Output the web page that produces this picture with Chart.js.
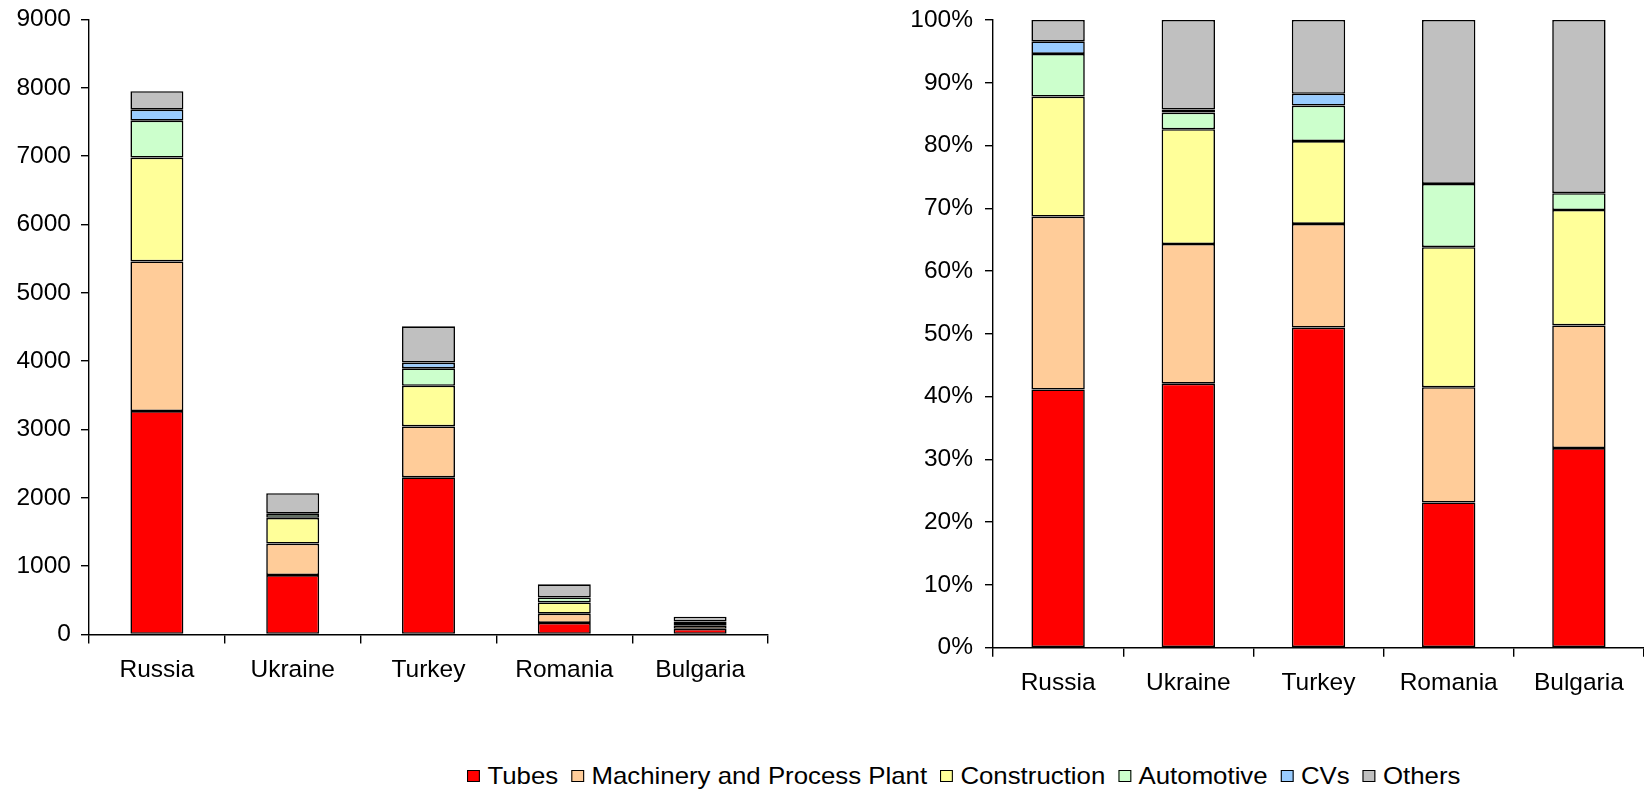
<!DOCTYPE html>
<html>
<head>
<meta charset="utf-8">
<script src="https://cdn.jsdelivr.net/npm/chart.js@4"></script>
<style>
  body { margin: 0; background: #fff; width: 1644px; height: 791px; overflow: hidden; position: relative; }
  canvas { position: absolute; top: 0; }
  #left { left: 0; }
  #right { left: 880px; }
  #legend { position: absolute; left: 467px; top: 762px; display: flex; align-items: center;
    font: 24px "Liberation Sans", Arial, sans-serif; color: #000; white-space: nowrap;
    transform: scaleX(1.075); transform-origin: 0 0; }
  #legend .box { display: inline-block; width: 10px; height: 10px; border: 1.5px solid #000; margin-right: 7px; }
  #legend .item { display: flex; align-items: center; margin-right: 12px; }
</style>
</head>
<body>
<canvas id="left" width="780" height="700"></canvas>
<canvas id="right" width="764" height="710"></canvas>
<div id="legend"></div>
<script>
const countries = ['Russia', 'Ukraine', 'Turkey', 'Romania', 'Bulgaria'];
const seriesNames = ['Tubes', 'Machinery and Process Plant', 'Construction', 'Automotive', 'CVs', 'Others'];
const seriesColors = ['#FF0000', '#FFCC99', '#FFFF99', '#CCFFCC', '#99CCFF', '#C0C0C0'];

// tonnes by sector
const tubes        = [3270, 870, 2300, 170, 83];
const machinery    = [2190, 460, 745, 135, 51];
const construction = [1520, 378, 595, 164, 48];
const automotive   = [540, 55, 255, 74, 7];
const cvs          = [160, 10, 85, 0, 0];
const others       = [270, 295, 530, 192, 72];

const leftTicks = [0, 1000, 2000, 3000, 4000, 5000, 6000, 7000, 8000, 9000];
const rightTicks = [0, 10, 20, 30, 40, 50, 60, 70, 80, 90, 100];

const series = [tubes, machinery, construction, automotive, cvs, others];
const totals = countries.map((c, i) => series.reduce((s, arr) => s + arr[i], 0));

const font = { family: '"Liberation Sans", Arial, sans-serif', size: 24.5 };

function makeSets(percent) {
    return series.map((arr, k) => ({
        label: seriesNames[k],
        data: percent ? arr.map((v, i) => v / totals[i] * 100) : arr,
        backgroundColor: seriesColors[k],
        borderColor: '#000',
        borderWidth: 1.6,
        borderSkipped: false
    }));
}

function makeChart(id, percent, opts) {
    return new Chart(document.getElementById(id), {
        type: 'bar',
        data: { labels: countries, datasets: makeSets(percent) },
        options: {
            responsive: false,
            animation: false,
            events: [],
            layout: { padding: opts.padding },
            plugins: { legend: { display: false }, tooltip: { enabled: false } },
            datasets: { bar: { categoryPercentage: 1, barPercentage: opts.barPct } },
            scales: {
                x: {
                    stacked: true,
                    border: { color: '#000', width: 1.4 },
                    grid: { drawOnChartArea: false, color: '#000', lineWidth: 1.4, tickLength: 9 },
                    ticks: { color: '#000', font: font, padding: 12, maxRotation: 0 },
                    afterFit(s) { s.height = opts.xHeight; s.paddingLeft = 0; s.paddingRight = 0; }
                },
                y: {
                    stacked: true,
                    min: 0,
                    max: opts.max,
                    afterBuildTicks(s) { s.ticks = opts.ticks.map(v => ({ value: v })); },
                    border: { color: '#000', width: 1.4 },
                    grid: { drawOnChartArea: false, color: '#000', lineWidth: 1.4, tickLength: 8 },
                    ticks: {
                        color: '#000', font: font, padding: opts.labelPad,
                        callback: v => percent ? v + '%' : v
                    },
                    afterFit(s) { s.width = opts.yWidth; s.paddingTop = 0; s.paddingBottom = 0; }
                }
            }
        }
    });
}

makeChart('left', false, {
    padding: { top: 19.5, right: 12, left: 0, bottom: 0 },
    xHeight: 65.5, yWidth: 89, max: 9000, ticks: leftTicks, barPct: 0.39, labelPad: 10
});
makeChart('right', true, {
    padding: { top: 20, right: 0, left: 0, bottom: 0 },
    xHeight: 62.3, yWidth: 113, max: 100, ticks: rightTicks, barPct: 0.41, labelPad: 12
});

const legend = document.getElementById('legend');
seriesNames.forEach((name, k) => {
    const item = document.createElement('span');
    item.className = 'item';
    item.innerHTML = '<span class="box" style="background:' + seriesColors[k] + '"></span>' + name;
    legend.appendChild(item);
});
</script>
</body>
</html>
